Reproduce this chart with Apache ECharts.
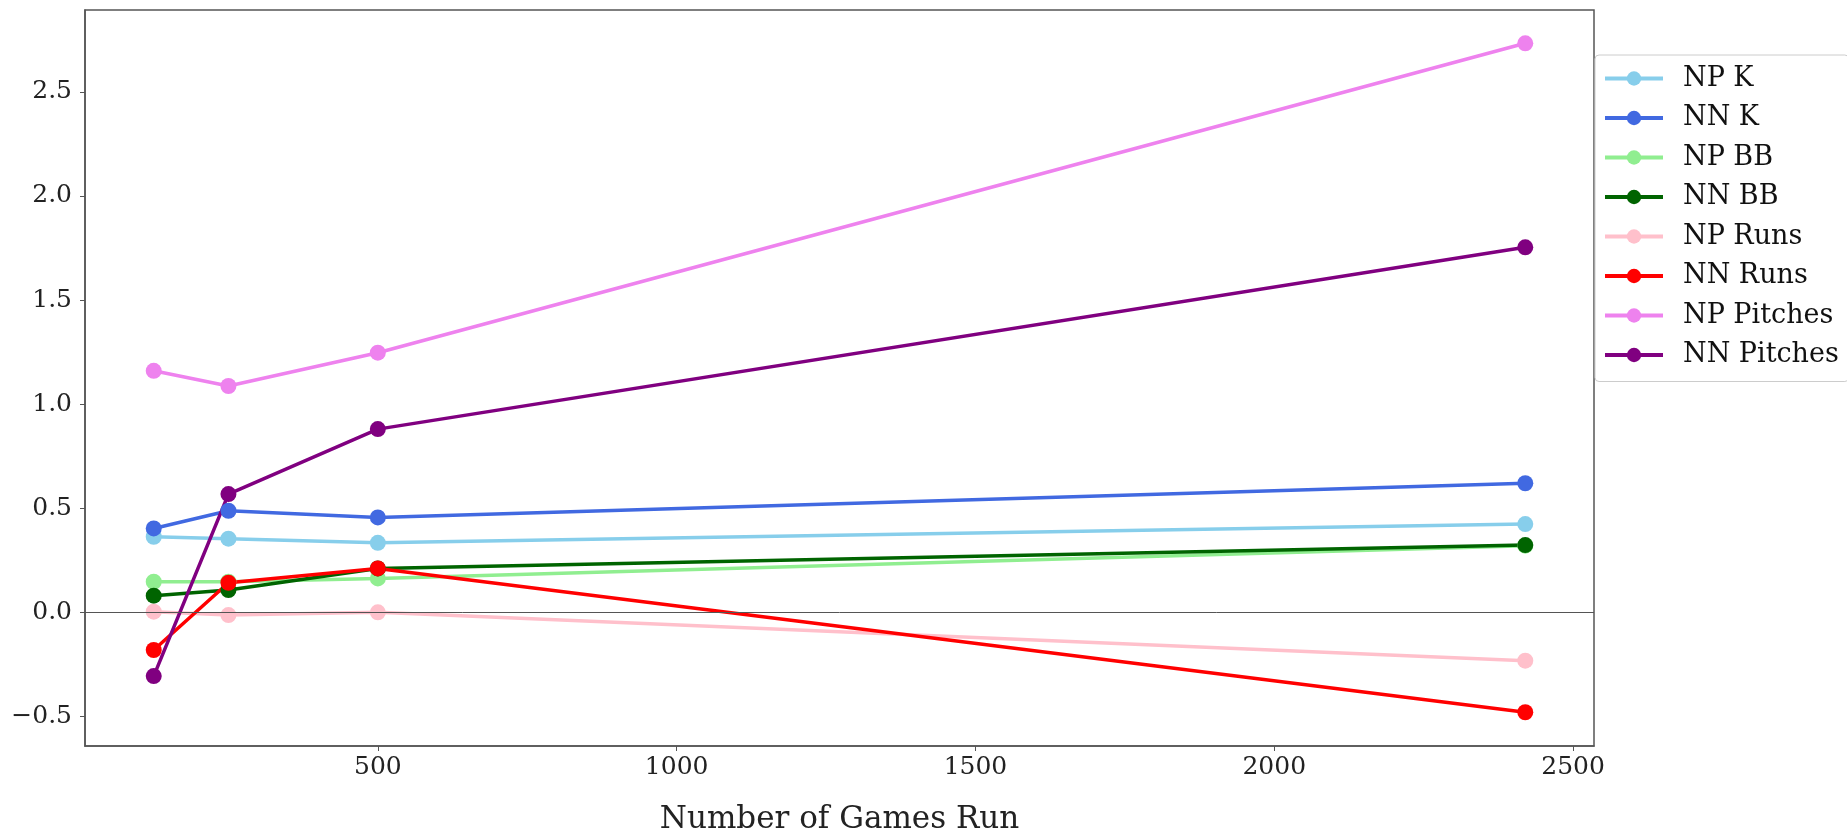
<!DOCTYPE html>
<html>
<head>
<meta charset="utf-8">
<title>Games run</title>
<script src="https://cdn.jsdelivr.net/npm/echarts@6/dist/echarts.min.js"></script>
<style>
  html, body { margin: 0; padding: 0; background: #fff; }
  #chart { width: 1847px; height: 835px; }
</style>
</head>
<body>
<div id="chart"></div>
<script>
// x values (number of games run)
var gamesRun = [125, 250, 500, 2420];

// series values
var npK       = [0.363, 0.354, 0.334, 0.424];
var nnK       = [0.403, 0.488, 0.456, 0.620];
var npBB      = [0.147, 0.147, 0.163, 0.320];
var nnBB      = [0.080, 0.107, 0.211, 0.323];
var npRuns    = [0.003, -0.013, 0.000, -0.232];
var nnRuns    = [-0.181, 0.142, 0.211, -0.480];
var npPitches = [1.160, 1.087, 1.247, 2.733];
var nnPitches = [-0.306, 0.568, 0.880, 1.753];

var seriesNames = ['NP K', 'NN K', 'NP BB', 'NN BB', 'NP Runs', 'NN Runs', 'NP Pitches', 'NN Pitches'];
var seriesData  = [npK, nnK, npBB, nnBB, npRuns, nnRuns, npPitches, nnPitches];
var seriesColors = ['#87ceeb', '#4169e1', '#90ee90', '#006400', '#ffc0cb', '#ff0000', '#ee82ee', '#800080'];

// tick labels
var xTicks = [500, 1000, 1500, 2000, 2500];
var yTicks = [-0.5, 0, 0.5, 1.0, 1.5, 2.0, 2.5];

var FONT = "'DejaVu Serif', serif";

function pairs(ys) {
	var out = [];
	for (var i = 0; i < gamesRun.length; i++) {
		out.push([gamesRun[i], ys[i]]);
	}
	return out;
}

var series = [];
for (var i = 0; i < seriesNames.length; i++) {
	var s = {
		name: seriesNames[i],
		type: 'line',
		data: pairs(seriesData[i]),
		symbol: 'circle',
		symbolSize: 16,
		itemStyle: { color: seriesColors[i] },
		lineStyle: { width: 3.5, color: seriesColors[i] },
		emphasis: { disabled: true }
	};
	if (i === 0) {
		// horizontal line at y = 0
		s.markLine = {
			silent: true,
			symbol: ['none', 'none'],
			label: { show: false },
			lineStyle: { color: '#555', width: 1, type: 'solid' },
			data: [{ yAxis: 0 }],
			animation: false
		};
	}
	series.push(s);
}

var myChart = echarts.init(document.getElementById('chart'));
var option = {
	animation: false,
	backgroundColor: '#fff',
	textStyle: { fontFamily: FONT },
	grid: {
		left: 85,
		top: 10,
		right: 253,
		bottom: 89,
		containLabel: false,
		outerBoundsMode: 'none',
		show: true,
		borderColor: '#555',
		borderWidth: 1.5,
		backgroundColor: 'transparent'
	},
	legend: {
		data: seriesNames,
		orient: 'vertical',
		left: 1595,
		top: 55,
		padding: [10, 10, 13, 8],
		itemWidth: 58,
		itemHeight: 18,
		itemGap: 12.5,
		backgroundColor: 'rgba(255,255,255,0.85)',
		borderColor: '#ccc',
		borderWidth: 1,
		borderRadius: 4,
		lineStyle: { width: 4 },
		textStyle: {
			fontFamily: FONT,
			fontSize: 27,
			lineHeight: 24,
			color: '#111',
			padding: [0, 0, 0, 15]
		}
	},
	xAxis: {
		type: 'value',
		min: 10,
		max: 2535,
		name: 'Number of Games Run',
		nameLocation: 'middle',
		nameGap: 58,
		nameTextStyle: { fontFamily: FONT, fontSize: 31, color: '#222' },
		axisLine: { show: true, onZero: false, lineStyle: { color: '#555', width: 1.5 } },
		axisTick: { show: true, length: 5, customValues: xTicks, lineStyle: { color: '#555' } },
		axisLabel: {
			customValues: xTicks,
			fontFamily: FONT,
			fontSize: 25,
			color: '#222',
			margin: 9,
			formatter: function (value) {
				return String(value);
			}
		},
		splitLine: { show: false }
	},
	yAxis: {
		type: 'value',
		min: -0.642,
		max: 2.893,
		axisLine: { show: true, onZero: false, lineStyle: { color: '#555', width: 1.5 } },
		axisTick: { show: true, length: 5, customValues: yTicks, lineStyle: { color: '#555' } },
		axisLabel: {
			customValues: yTicks,
			fontFamily: FONT,
			fontSize: 25,
			color: '#222',
			margin: 13,
			formatter: function (value) {
				var t = value.toFixed(1);
				return t.charAt(0) === '-' ? '\u2212' + t.substring(1) : t;
			}
		},
		splitLine: { show: false }
	},
	series: series
};
myChart.setOption(option, true);
window.onresize = function() {
	myChart.resize();
};
</script>
</body>
</html>
